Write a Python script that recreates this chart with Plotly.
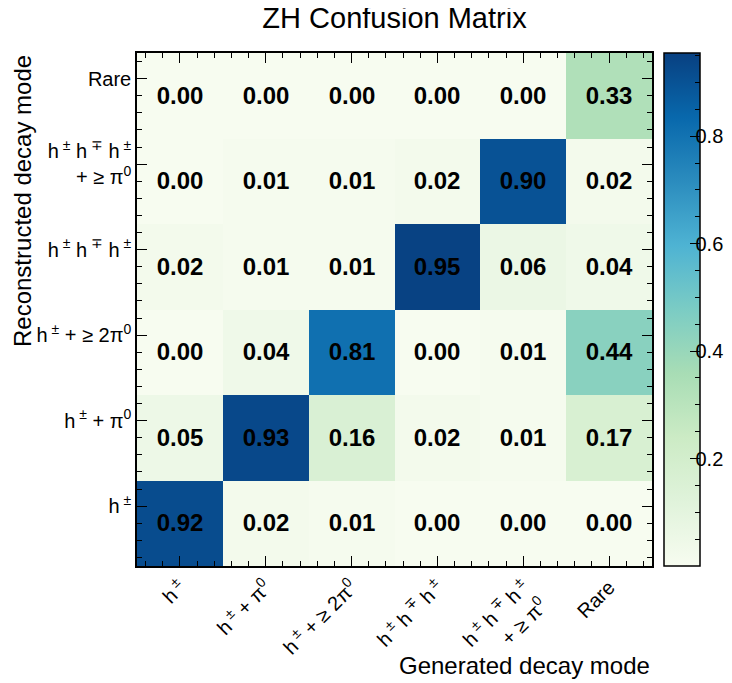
import plotly.graph_objects as go

PM = "<sup> ±</sup>"
MP = "<sup> ∓</sup>"
gen_labels = [
    f"h{PM}",
    f"h{PM} + π<sup>0</sup>",
    f"h{PM} + ≥ 2π<sup>0</sup>",
    f"h{PM} h{MP} h{PM}",
    f"h{PM} h{MP} h{PM}<br>+ ≥ π<sup>0</sup>",
    "Rare",
]
reco_labels = list(gen_labels)

# rows: reconstructed mode (bottom -> top), columns: generated mode
row_h1 = [0.92, 0.02, 0.01, 0.00, 0.00, 0.00]
row_h1pi0 = [0.05, 0.93, 0.16, 0.02, 0.01, 0.17]
row_h12pi0 = [0.00, 0.04, 0.81, 0.00, 0.01, 0.44]
row_h3 = [0.02, 0.01, 0.01, 0.95, 0.06, 0.04]
row_h3pi0 = [0.00, 0.01, 0.01, 0.02, 0.90, 0.02]
row_rare = [0.00, 0.00, 0.00, 0.00, 0.00, 0.33]
z = [row_h1, row_h1pi0, row_h12pi0, row_h3, row_h3pi0, row_rare]

zmin, zmax = 0.0, 0.955
cbar_major = [0.2, 0.4, 0.6, 0.8]

FONT = "Liberation Sans, Arial, Helvetica, sans-serif"
xs = list(range(6))
ys = list(range(6))

# page body has an 8px default margin; figure is sized to fit the window
W, H = 724, 675
ML, MR, MT, MB = 129, 80, 45, 117
PW = W - ML - MR
PH = H - MT - MB

CB_X = 1 + (664 - 8 - (ML + PW)) / PW
cb_common = dict(
    xanchor="left", xref="paper",
    y=0.5, yanchor="middle", len=1.0, lenmode="fraction",
    thickness=36, xpad=0, ypad=0,
)
transparent = [[0, "rgba(0,0,0,0)"], [1, "rgba(0,0,0,0)"]]

fig = go.Figure()
fig.add_trace(go.Heatmap(
    z=z, x=xs, y=ys, zmin=zmin, zmax=zmax, colorscale="GnBu",
    texttemplate="%{z:.2f}",
    textfont=dict(family=FONT, size=24, color="black", weight="bold"),
    colorbar=dict(
        **cb_common, x=CB_X,
        outlinewidth=1.5, outlinecolor="black",
        tickmode="array", tickvals=cbar_major,
        ticks="inside", ticklen=10, tickwidth=1, tickcolor="black",
        showticklabels=False,
    ),
    hoverinfo="skip",
))
# transparent overlay carrying the minor colorbar ticks
fig.add_trace(go.Heatmap(
    z=z, x=xs, y=ys, zmin=zmin, zmax=zmax, colorscale=transparent,
    colorbar=dict(
        **cb_common, x=CB_X, outlinewidth=0,
        tick0=0, dtick=0.05,
        ticks="inside", ticklen=5, tickwidth=1, tickcolor="black",
        showticklabels=False,
    ),
    hoverinfo="skip",
))
# transparent overlay carrying the colorbar tick labels (shifted to sit close to the bar)
fig.add_trace(go.Heatmap(
    z=z, x=xs, y=ys, zmin=zmin, zmax=zmax, colorscale=transparent,
    colorbar=dict(
        **cb_common, x=CB_X - 9 / PW, outlinewidth=0,
        tickmode="array", tickvals=cbar_major,
        ticktext=[f"{v:.1f}" for v in cbar_major],
        ticks="",
        tickfont=dict(family=FONT, size=20, color="black"),
    ),
    hoverinfo="skip",
))

axis_common = dict(
    showline=True, linewidth=1.5, linecolor="black", mirror="allticks",
    ticks="inside", ticklen=10, tickwidth=1, tickcolor="black",
    showgrid=False, zeroline=False,
    tickfont=dict(family=FONT, size=20, color="black"),
    range=[-0.5, 5.5],
)

fig.update_layout(
    width=W, height=H,
    margin=dict(l=ML, r=MR, t=MT, b=MB, autoexpand=False),
    paper_bgcolor="white", plot_bgcolor="white",
    title=dict(text="ZH Confusion Matrix", x=0.5, xref="paper", xanchor="center",
               y=1.0, yref="container", yanchor="top", pad=dict(t=0),
               font=dict(family=FONT, size=29, color="black")),
    xaxis=dict(**axis_common, tickmode="array", tickvals=xs, ticktext=gen_labels,
               tickangle=-45,
               minor=dict(ticks="inside", ticklen=5, tickwidth=1, tickcolor="black",
                          tick0=0, dtick=0.2, showgrid=False)),
    yaxis=dict(**axis_common, tickmode="array", tickvals=[v + 0.2 for v in ys],
               ticktext=reco_labels,
               minor=dict(ticks="inside", ticklen=5, tickwidth=1, tickcolor="black",
                          tick0=0, dtick=0.2, showgrid=False)),
    annotations=[
        dict(text="Generated decay mode", xref="paper", yref="paper",
             x=1.0, xanchor="right", y=-(665 - 566) / PH, yanchor="middle",
             showarrow=False, font=dict(family=FONT, size=24, color="black")),
        dict(text="Reconstructed decay mode", xref="paper", yref="paper",
             x=(22 - 137) / PW, xanchor="center", y=1.0, yanchor="top",
             textangle=-90, showarrow=False,
             font=dict(family=FONT, size=24, color="black")),
    ],
)

fig.write_html("out.html")
